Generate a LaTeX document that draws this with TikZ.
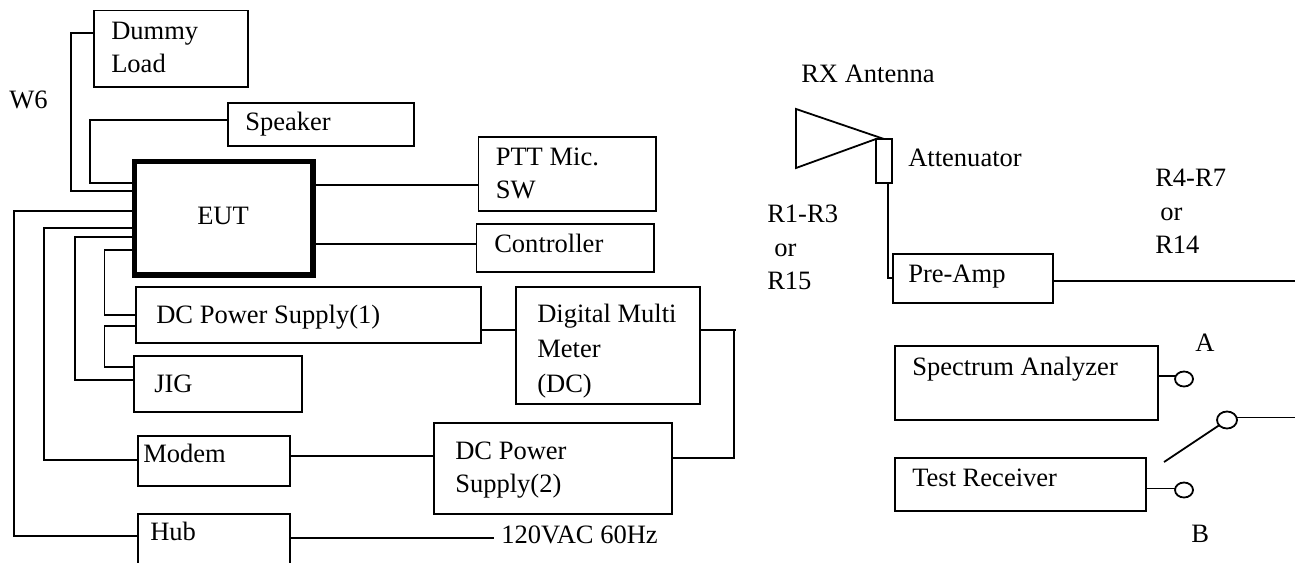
\documentclass[tikz,border=0pt]{standalone}
\usepackage{fontspec}
\usetikzlibrary{shapes.geometric}
\setmainfont{Liberation Serif}
\begin{document}
\begin{tikzpicture}[x=0.75pt,y=-0.75pt,
  wire/.style={line width=1.35pt,line join=miter},
  box/.style={draw,line width=1.35pt,rectangle,inner sep=0pt,outer sep=0pt,anchor=north west},
  thickbox/.style={box,line width=3.9pt},
  txt/.style={inner sep=0pt,anchor=base west,align=left,yshift=-0.4pt,font=\fontsize{19.9}{25.5}\selectfont},
  port/.style={draw,line width=1.35pt,ellipse,inner sep=0pt,outer sep=0pt}]
\useasboundingbox (0,0) rectangle (1295,563);
\clip (0,0) rectangle (1295,563);
\newcommand{\bx}[6][box]{\node[#1,minimum width=#4*0.75pt,minimum height=#5*0.75pt] (#2) at (#3) {};}
% boxes
\bx{dummy}{94,10.5}{154}{76.5}{}
\bx{speaker}{228,103}{186}{43}{}
\bx[thickbox]{eut}{134.5,161.5}{178.5}{113.5}{}
\bx{ptt}{478.5,137}{177.5}{74}{}
\bx{ctrl}{476.5,224}{177.5}{48}{}
\bx{dcone}{136,287}{345}{56}{}
\bx{jig}{134,356}{168}{56}{}
\bx{dmm}{516,287}{184}{117}{}
\bx{modem}{138,436}{152}{50}{}
\bx{dctwo}{434,423}{238}{91}{}
\bx{hub}{138,514}{152}{80}{}
\bx{atten}{876,139}{16}{44}{}
\bx{preamp}{893,254}{160}{49}{}
\bx{spec}{895,346}{263}{74}{}
\bx{recv}{895,458}{251}{53}{}
% texts
\node[txt] (tdummy) at (111,39) {Dummy};
\node[txt] (tload) at (111,72) {Load};
\node[txt] (tw) at (9,108) {W6};
\node[txt] (tspeaker) at (245,130) {Speaker};
\node[txt] (teut) at (197,224) {EUT};
\node[txt] (tptt) at (495.5,165) {PTT Mic.};
\node[txt] (tsw) at (495.5,198) {SW};
\node[txt] (tctrl) at (494,252) {Controller};
\node[txt] (tdcone) at (156,323) {DC Power Supply(1)};
\node[txt] (tjig) at (154,392) {JIG};
\node[txt] (tmodem) at (143,462) {Modem};
\node[txt] (thub) at (150,540) {Hub};
\node[txt] (tdmma) at (537,322) {Digital Multi};
\node[txt] (tdmmb) at (537,357) {Meter};
\node[txt] (tdmmc) at (537,392) {(DC)};
\node[txt] (tdca) at (455,459) {DC Power};
\node[txt] (tdcb) at (455,492) {Supply(2)};
\node[txt] (tac) at (501,543) {120VAC 60Hz};
\node[txt] (trx) at (801,82) {RX Antenna};
\node[txt] (tatt) at (908,166) {Attenuator};
\node[txt] (tra) at (1155,186) {R4-R7};
\node[txt] (trb) at (1160,220) {or};
\node[txt] (trc) at (1155,253) {R14};
\node[txt] (tla) at (767,222) {R1-R3};
\node[txt] (tlb) at (774,256) {or};
\node[txt] (tlc) at (767,289) {R15};
\node[txt] (tpre) at (908,282) {Pre-Amp};
\node[txt] (tspec) at (912,375) {Spectrum Analyzer};
\node[txt] (trecv) at (912,486) {Test Receiver};
\node[txt] (ta) at (1195,351) {A};
\node[txt] (tb) at (1191,542) {B};
% antenna
\coordinate (anttop) at (796,109);
\coordinate (antbot) at (796,168);
\draw[wire] (atten.north) -- (anttop) -- (antbot) -- (atten.north west);
% switch ports
\node[port,minimum width=18*0.75pt,minimum height=15*0.75pt] (pa) at (1184,379) {};
\node[port,minimum width=18*0.75pt,minimum height=15*0.75pt] (pb) at (1184,490) {};
\node[port,minimum width=20*0.75pt,minimum height=17*0.75pt] (pc) at (1227,420) {};
\coordinate (armend) at (1164,462);
\coordinate (outr) at (1295,281);
\coordinate (outs) at (1295,415);
\coordinate (dmmstub) at (736,330);
% connectors
\draw[wire] (dummy.west |- 0,33) -| (71,191) -- (eut.west |- 0,191);
\draw[wire] (speaker.west |- 0,120) -| (90,183) -- (eut.west |- 0,183);
\draw[wire] (eut.west |- 0,211) -| (14,536) -- (hub.west |- 0,536);
\draw[wire] (eut.west |- 0,228) -| (44,460) -- (modem.west |- 0,460);
\draw[wire] (eut.west |- 0,237) -| (75,380) -- (jig.west |- 0,380);
\draw[wire] (eut.west |- 0,250) -| (104.5,315) -- (dcone.west |- 0,315);
\draw[wire] (dcone.west |- 0,326) -| (104.5,367) -- (jig.west |- 0,367);
\draw[wire] (eut.east |- 0,185) -- (ptt.west |- 0,185);
\draw[wire] (eut.east |- 0,244) -- (ctrl.west |- 0,244);
\draw[wire] (dcone.east |- 0,330) -- (dmm.west |- 0,330);
\draw[wire] (dmm.east |- 0,330) -- (dmmstub);
\draw[wire] (dmmstub -| 734,0) |- (dctwo.east |- 0,458);
\draw[wire] (modem.east |- 0,456) -- (dctwo.west |- 0,456);
\draw[wire] (hub.east |- 0,538) -- (494,538);
\draw[wire] (888,183) |- (preamp.west |- 0,278);
\draw[wire] (preamp.east |- outr) -- (outr);
\draw[wire] (spec.east |- pa.160) -- (pa.160);
\draw[wire] (recv.east |- pb.170) -- (pb.170);
\draw[wire] (armend) -- (pc);
\draw[wire] (pc.15) -- (pc.15 -| outs);
\end{tikzpicture}
\end{document}
